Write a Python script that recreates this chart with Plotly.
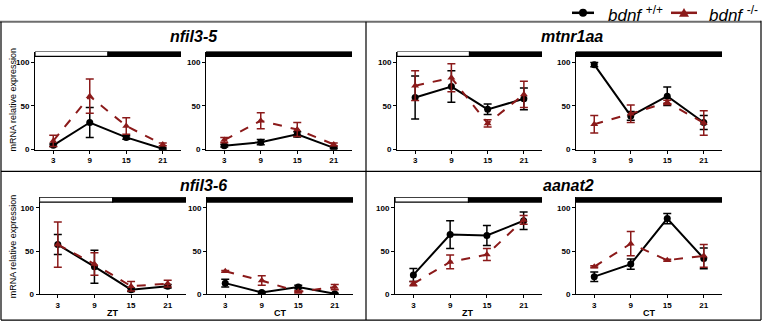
import plotly.graph_objects as go

W, H = 763, 327

# Sampling times (hours) and axis ticks
times = [3, 9, 15, 21]
tick_labels = ["3", "9", "15", "21"]
y_ticks = [0, 50, 100]

# nfil3-5: mean and SEM, wild type (+/+) and mutant (-/-)
nfil35_zt_wt = [5, 31, 14, 1]
nfil35_zt_wt_err = [1.5, 17, 2, 1]
nfil35_zt_ko = [10, 61, 27, 6]
nfil35_zt_ko_err = [6.5, 19.5, 9.5, 1.5]
nfil35_ct_wt = [4.5, 8.5, 17.5, 2]
nfil35_ct_wt_err = [1.5, 3, 3, 1]
nfil35_ct_ko = [11, 33, 23, 6]
nfil35_ct_ko_err = [3, 9, 8, 1.5]

# mtnr1aa
mtnr1aa_zt_wt = [59.5, 72, 46, 58]
mtnr1aa_zt_wt_err = [24.5, 18, 6, 12.5]
mtnr1aa_zt_ko = [73, 82, 30, 63]
mtnr1aa_zt_ko_err = [17, 16, 4, 15]
mtnr1aa_ct_wt = [97, 38.5, 61, 31]
mtnr1aa_ct_wt_err = [2.5, 5, 10.5, 8]
mtnr1aa_ct_ko = [29, 41, 54, 30.5]
mtnr1aa_ct_ko_err = [10, 10, 2.5, 14]

# nfil3-6
nfil36_zt_wt = [57.5, 32, 5.5, 9.5]
nfil36_zt_wt_err = [11.5, 19, 2, 2]
nfil36_zt_ko = [57.5, 35, 9.5, 12.5]
nfil36_zt_ko_err = [26, 13, 5.5, 4]
nfil36_ct_wt = [13, 2.3, 8.5, 0.8]
nfil36_ct_wt_err = [4.5, 1, 2, 0.5]
nfil36_ct_ko = [26.7, 16, 3, 8.5]
nfil36_ct_ko_err = [1, 5.5, 1, 3]

# aanat2
aanat2_zt_wt = [22.5, 69, 68, 85]
aanat2_zt_wt_err = [7.5, 16, 11.5, 10]
aanat2_zt_ko = [12.5, 37.5, 46, 86]
aanat2_zt_ko_err = [2.5, 8, 7, 5]
aanat2_ct_wt = [20.5, 35, 87.5, 41.5]
aanat2_ct_wt_err = [5.5, 6, 6, 12]
aanat2_ct_ko = [32, 58.5, 39.5, 44.5]
aanat2_ct_ko_err = [1, 14, 1, 13]

gene_titles = ["nfil3-5", "mtnr1aa", "nfil3-6", "aanat2"]
legend_labels = ["<i>bdnf</i> <sup>+/+</sup>", "<i>bdnf</i> <sup>-/-</sup>"]

WT_COLOR = "#000000"
KO_COLOR = "#8b1a1a"
FONT = "Liberation Sans"

# (x-left px, x-right px, y-bottom px, y-top px, light regime?, wt, wt_err, ko, ko_err)
subplots = [
    (35, 181, 152, 52.3, True, nfil35_zt_wt, nfil35_zt_wt_err, nfil35_zt_ko, nfil35_zt_ko_err),
    (206, 352, 152, 52.3, False, nfil35_ct_wt, nfil35_ct_wt_err, nfil35_ct_ko, nfil35_ct_ko_err),
    (397, 542, 152, 52.3, True, mtnr1aa_zt_wt, mtnr1aa_zt_wt_err, mtnr1aa_zt_ko, mtnr1aa_zt_ko_err),
    (576, 722, 152, 52.3, False, mtnr1aa_ct_wt, mtnr1aa_ct_wt_err, mtnr1aa_ct_ko, mtnr1aa_ct_ko_err),
    (39.5, 186, 299, 200.4, True, nfil36_zt_wt, nfil36_zt_wt_err, nfil36_zt_ko, nfil36_zt_ko_err),
    (207, 353, 299, 200.4, False, nfil36_ct_wt, nfil36_ct_wt_err, nfil36_ct_ko, nfil36_ct_ko_err),
    (395, 542, 299, 200.4, True, aanat2_zt_wt, aanat2_zt_wt_err, aanat2_zt_ko, aanat2_zt_ko_err),
    (576, 722, 299, 200.4, False, aanat2_ct_wt, aanat2_ct_wt_err, aanat2_ct_ko, aanat2_ct_ko_err),
]


def px(x):
    return x / W


def py(y):
    return 1 - y / H


fig = go.Figure()
layout = {}
shapes = []
annotations = []

for i, (xl, xr, yb, yt, light, wt, wt_err, ko, ko_err) in enumerate(subplots, start=1):
    suffix = "" if i == 1 else str(i)
    xa, ya = "x" + suffix, "y" + suffix
    layout["xaxis" + suffix] = dict(
        domain=[px(xl), px(xr)], range=[0, 24], anchor=ya,
        tickvals=times, ticktext=tick_labels, ticks="outside", ticklen=3,
        tickwidth=1, tickcolor="black", showline=True, linecolor="black",
        linewidth=1, showgrid=False, zeroline=False, fixedrange=True,
        tickfont=dict(family=FONT, size=8, color="black", weight=700),
    )
    layout["yaxis" + suffix] = dict(
        domain=[py(yb), py(yt)], range=[0, 112], anchor=xa,
        tickvals=y_ticks, ticks="outside", ticklen=3, tickwidth=1,
        tickcolor="black", showline=True, linecolor="black", linewidth=1,
        showgrid=False, zeroline=False, fixedrange=True,
        tickfont=dict(family=FONT, size=8, color="black", weight=700),
    )

    # light/dark regime bar across the top of each plot
    if light:
        shapes.append(dict(type="rect", xref=xa, yref=ya, x0=0, x1=12, y0=106.5, y1=112,
                           fillcolor="white", line=dict(color="black", width=1.2)))
        shapes.append(dict(type="rect", xref=xa, yref=ya, x0=12, x1=24, y0=106.5, y1=112,
                           fillcolor="black", line=dict(color="black", width=1.2)))
    else:
        shapes.append(dict(type="rect", xref=xa, yref=ya, x0=0, x1=24, y0=106.5, y1=112,
                           fillcolor="black", line=dict(color="black", width=1.2)))

    fig.add_trace(go.Scatter(
        x=times, y=wt, xaxis=xa, yaxis=ya, mode="lines+markers",
        line=dict(color=WT_COLOR, width=2),
        marker=dict(symbol="circle", size=7, color=WT_COLOR),
        error_y=dict(type="data", array=wt_err, visible=True, color=WT_COLOR,
                     thickness=1.5, width=4),
        showlegend=False, hoverinfo="skip",
    ))
    fig.add_trace(go.Scatter(
        x=times, y=ko, xaxis=xa, yaxis=ya, mode="lines+markers",
        line=dict(color=KO_COLOR, width=2, dash="dash"),
        marker=dict(symbol="triangle-up", size=7, color=KO_COLOR),
        error_y=dict(type="data", array=ko_err, visible=True, color=KO_COLOR,
                     thickness=1.5, width=4),
        showlegend=False, hoverinfo="skip",
    ))

# panel frames
frame = dict(type="line", xref="paper", yref="paper")
shapes += [
    dict(frame, x0=px(0), x1=px(761), y0=py(22), y1=py(22), line=dict(color="#6e6e6e", width=2)),
    dict(frame, x0=px(1), x1=px(1), y0=py(22), y1=py(325), line=dict(color="black", width=1.2)),
    dict(frame, x0=px(761), x1=px(761), y0=py(21), y1=py(325), line=dict(color="black", width=1.2)),
    dict(frame, x0=px(1), x1=px(761), y0=py(325), y1=py(325), line=dict(color="black", width=1.2)),
    dict(frame, x0=px(366), x1=px(366), y0=py(22), y1=py(325), line=dict(color="black", width=1.2)),
    dict(frame, x0=px(1), x1=px(761), y0=py(174), y1=py(174), line=dict(color="black", width=1.2)),
]

# legend glyphs
shapes += [
    dict(frame, x0=px(572), x1=px(594), y0=py(13), y1=py(13), line=dict(color=WT_COLOR, width=2.5)),
    dict(type="circle", xref="paper", yref="paper", x0=px(579), x1=px(587), y0=py(17), y1=py(9),
         fillcolor=WT_COLOR, line=dict(color=WT_COLOR, width=0)),
    dict(frame, x0=px(671), x1=px(697), y0=py(13), y1=py(13), line=dict(color=KO_COLOR, width=2.5)),
    dict(type="path", xref="paper", yref="paper",
         path=f"M {px(679)} {py(17)} L {px(689)} {py(17)} L {px(684)} {py(8)} Z",
         fillcolor=KO_COLOR, line=dict(color=KO_COLOR, width=0)),
]
annotations += [
    dict(text=legend_labels[0], x=px(606), y=py(14), xref="paper", yref="paper",
         xanchor="left", yanchor="middle", showarrow=False,
         font=dict(family=FONT, size=17, color="black")),
    dict(text=legend_labels[1], x=px(707), y=py(14), xref="paper", yref="paper",
         xanchor="left", yanchor="middle", showarrow=False,
         font=dict(family=FONT, size=17, color="black")),
]

# gene titles
title_pos = [(194, 37), (572, 37), (203, 188), (568, 188)]
for name, (tx, ty) in zip(gene_titles, title_pos):
    annotations.append(dict(text=f"<b><i>{name}</i></b>", x=px(tx), y=py(ty),
                            xref="paper", yref="paper", xanchor="center", yanchor="middle",
                            showarrow=False, font=dict(family=FONT, size=16, color="black")))

# y-axis titles
for ty in (101, 250):
    annotations.append(dict(text="mRNA relative expression", x=px(13), y=py(ty),
                            xref="paper", yref="paper", xanchor="center", yanchor="middle",
                            textangle=-90, showarrow=False,
                            font=dict(family=FONT, size=9, color="black")))

# time axis titles on the bottom row
for tx, label in [(112, "ZT"), (280, "CT"), (468, "ZT"), (649, "CT")]:
    annotations.append(dict(text=f"<b>{label}</b>", x=px(tx), y=py(318),
                            xref="paper", yref="paper", xanchor="center", yanchor="middle",
                            showarrow=False, font=dict(family=FONT, size=9, color="black")))

fig.update_layout(
    width=W, height=H, margin=dict(l=0, r=0, t=0, b=0),
    paper_bgcolor="white", plot_bgcolor="rgba(0,0,0,0)",
    shapes=shapes, annotations=annotations, showlegend=False,
    **layout,
)

fig.write_html("out.html")
